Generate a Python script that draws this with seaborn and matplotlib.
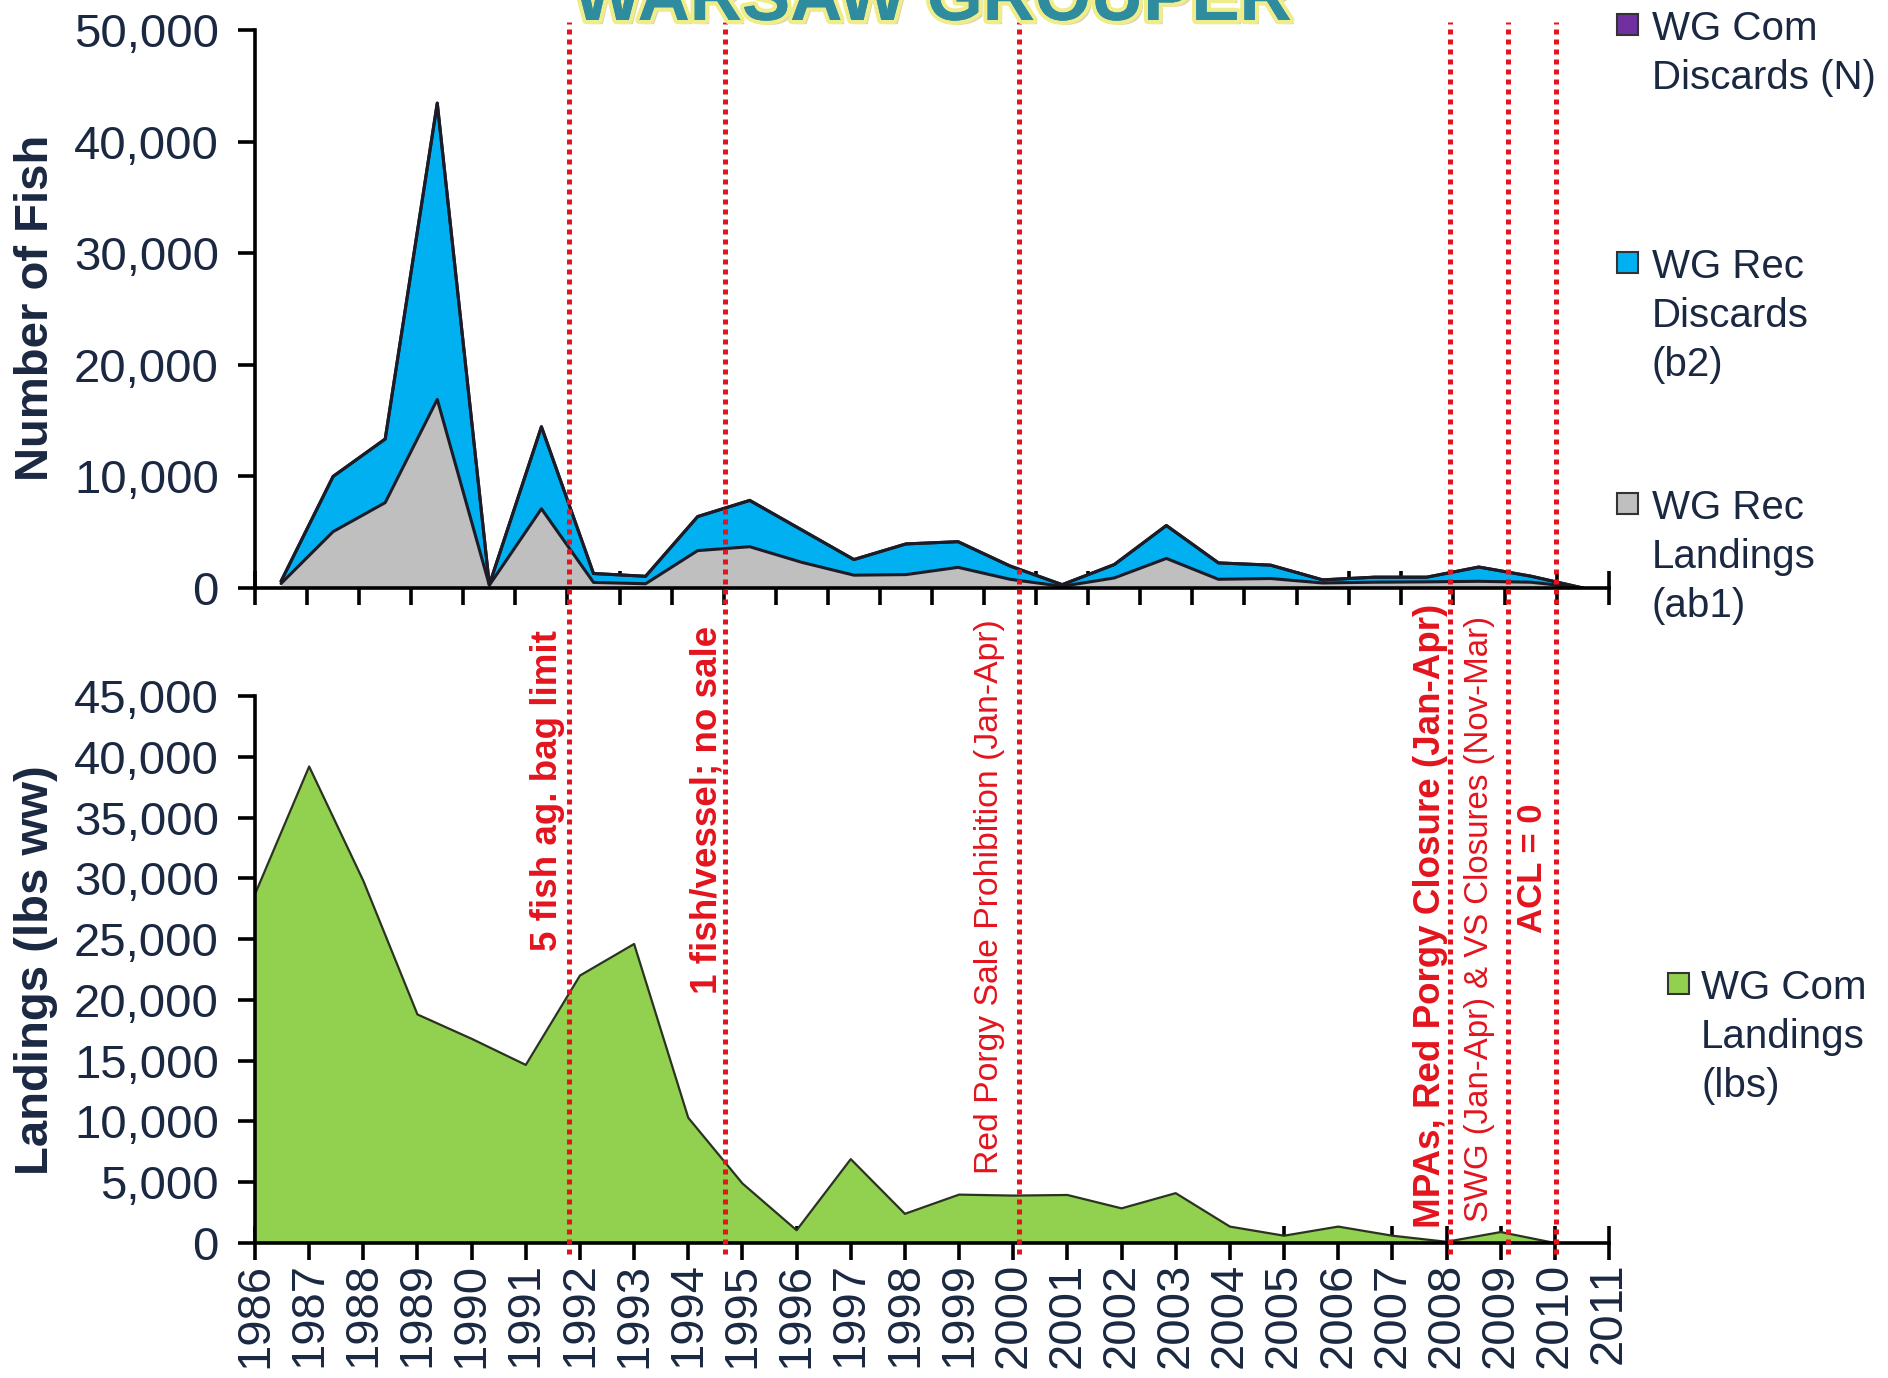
import numpy as np
import pandas as pd
import seaborn as sns
import matplotlib.pyplot as plt
import matplotlib.patheffects as pe
from matplotlib.patches import Rectangle
from matplotlib.ticker import FuncFormatter, MultipleLocator

# ---- data ----
top_years = list(range(1986, 2012))
rec_landings_ab1 = [400, 5050, 7650, 16900, 250, 7100, 500, 380, 3350, 3700,
                    2300, 1150, 1200, 1850, 780, 150, 900, 2650, 780, 850,
                    450, 520, 550, 600, 520, 0]
rec_discards_b2 = [200, 4950, 5700, 26550, 50, 7350, 800, 670, 3050, 4150,
                   2900, 1400, 2750, 2300, 1190, 150, 1200, 2950, 1470, 1200,
                   280, 450, 420, 1280, 540, 0]
com_discards_n = [0] * 26

bottom_years = list(range(1986, 2011))
com_landings_lbs = [28700, 39200, 29800, 18800, 16800, 14650, 22000, 24600, 10300, 4900,
                    1050, 6900, 2400, 3980, 3900, 3950, 2850, 4100, 1350, 600,
                    1350, 600, 100, 900, 0]
year_labels = [str(y) for y in range(1986, 2012)]

mgmt_years = [1991.8, 1994.67, 2000.1, 2008.07, 2009.13, 2010.03]
mgmt_notes = [
    ("5 fish ag. bag limit", 1991.4, 24000, "bold", 26.5),
    ("1 fish/vessel; no sale", 1994.34, 20500, "bold", 26.5),
    ("Red Porgy Sale Prohibition (Jan-Apr)", 1999.57, 5650, "normal", 24.3),
    ("MPAs, Red Porgy Closure (Jan-Apr)", 2007.7, 1200, "bold", 26.5),
    ("SWG (Jan-Apr) & VS Closures (Nov-Mar)", 2008.6, 1700, "normal", 23.8),
    ("ACL = 0", 2009.58, 25500, "bold", 25),
]

# ---- style ----
sns.set_theme(style="ticks")
plt.rcParams["font.family"] = ["Liberation Sans", "DejaVu Sans"]
navy = "#1B2842"
red = "#E3141E"
gray, blue, purple, green = "#BFBFBF", "#00B0F0", "#7030A0", "#92D050"
edge = "#1C1C28"

fig = plt.figure(figsize=(18.88, 13.78), dpi=100)
W, H = 1888, 1378
ax1 = fig.add_axes([255 / W, 1 - 588 / H, 1354 / W, 558 / H])
ax2 = fig.add_axes([255 / W, 1 - 1243 / H, 1354 / W, 547 / H])

# top panel: stacked areas, categories centred between ticks
top = pd.DataFrame({"year": top_years, "ab1": rec_landings_ab1,
                    "b2": rec_discards_b2, "comN": com_discards_n})
top["x"] = np.arange(len(top)) + 0.5
top["lvl1"] = top["ab1"]
top["lvl2"] = top["lvl1"] + top["b2"]
top["lvl3"] = top["lvl2"] + top["comN"]
ax1.fill_between(top["x"], 0, top["lvl1"], color=gray, lw=0)
ax1.fill_between(top["x"], top["lvl1"], top["lvl2"], color=blue, lw=0)
ax1.fill_between(top["x"], top["lvl2"], top["lvl3"], color=purple, lw=0)
for col in ["lvl1", "lvl2", "lvl3"]:
    sns.lineplot(data=top, x="x", y=col, ax=ax1, color=edge, linewidth=2.2, legend=False)
ax1.set_xlim(0, 26)
ax1.set_ylim(0, 50000)
ax1.set_xticks(np.arange(0, 27))
ax1.yaxis.set_major_locator(MultipleLocator(10000))

# bottom panel: commercial landings
bot = pd.DataFrame({"year": bottom_years, "lbs": com_landings_lbs})
ax2.fill_between(bot["year"], 0, bot["lbs"], color=green, lw=0)
sns.lineplot(data=bot, x="year", y="lbs", ax=ax2, color="#2A3320", linewidth=1.6, legend=False)
ax2.set_xlim(1986, 2011)
ax2.set_ylim(0, 45000)
ax2.set_xticks(range(1986, 2012))
ax2.set_xticklabels(year_labels, rotation=90)
ax2.yaxis.set_major_locator(MultipleLocator(5000))

fmt = FuncFormatter(lambda v, p: f"{int(v):,}")
for ax in (ax1, ax2):
    ax.set_xlabel("")
    ax.set_ylabel("")
    ax.yaxis.set_major_formatter(fmt)
    for s in ["top", "right"]:
        ax.spines[s].set_visible(False)
    for s in ["left", "bottom"]:
        ax.spines[s].set_color("black")
        ax.spines[s].set_linewidth(2.6)
    ax.tick_params(axis="y", direction="out", length=12, width=2.6, pad=14,
                   labelsize=34, labelcolor=navy, color="black")
    ax.tick_params(axis="x", direction="inout", length=24, width=2.6, pad=2,
                   labelsize=34, labelcolor=navy, color="black")
    ax.set_facecolor("white")
ax1.tick_params(axis="x", labelbottom=False)

# management lines spanning both panels
for yr in mgmt_years:
    ax2.axvline(yr, ymin=-0.02, ymax=(1243 - 22) / 547, color=red, lw=3.6,
                linestyle=(0, (1, 1)), dash_capstyle="butt", clip_on=False, zorder=5)
for txt, xx, yy, wt, fs in mgmt_notes:
    ax2.text(xx, yy, txt, rotation=90, ha="center", va="bottom", color=red,
             fontsize=fs, fontweight=wt, zorder=6)

# axis titles
fig.text(36 / W, 1 - 308 / H, "Number of Fish", rotation=90, ha="center", va="center",
         fontsize=34, fontweight="bold", color=navy)
fig.text(36 / W, 1 - 970 / H, "Landings (lbs ww)", rotation=90, ha="center", va="center",
         fontsize=34, fontweight="bold", color=navy)

# legends
def legend_entry(xsq, xtxt, ycen, color, label):
    sq = 21
    fig.add_artist(Rectangle((xsq / W, 1 - (ycen + sq / 2) / H), sq / W, sq / H,
                             transform=fig.transFigure, facecolor=color,
                             edgecolor="#333333", lw=1.5))
    fig.text(xtxt / W, 1 - (ycen - 14) / H, label, ha="left", va="top",
             fontsize=29, color=navy, linespacing=1.36)

legend_entry(1617, 1652, 24, purple, "WG Com\nDiscards (N)")
legend_entry(1617, 1652, 262, blue, "WG Rec\nDiscards\n(b2)")
legend_entry(1617, 1652, 503, gray, "WG Rec\nLandings\n(ab1)")
legend_entry(1668, 1701, 983, green, "WG Com\nLandings\n(lbs)")

# title, mostly cut off at the top edge as in the original slide
fig.text(933 / W, 1 - 20 / H, "WARSAW GROUPER", ha="center", va="baseline",
         fontsize=52, fontweight="bold", color="#2F8C9E",
         path_effects=[pe.withSimplePatchShadow(offset=(3, -3), shadow_rgbFace="#B8A860", alpha=0.5),
                       pe.withStroke(linewidth=6, foreground="#EFEC8A"),
                       pe.Normal()])

fig.savefig("out.png", dpi=100, facecolor="white")
